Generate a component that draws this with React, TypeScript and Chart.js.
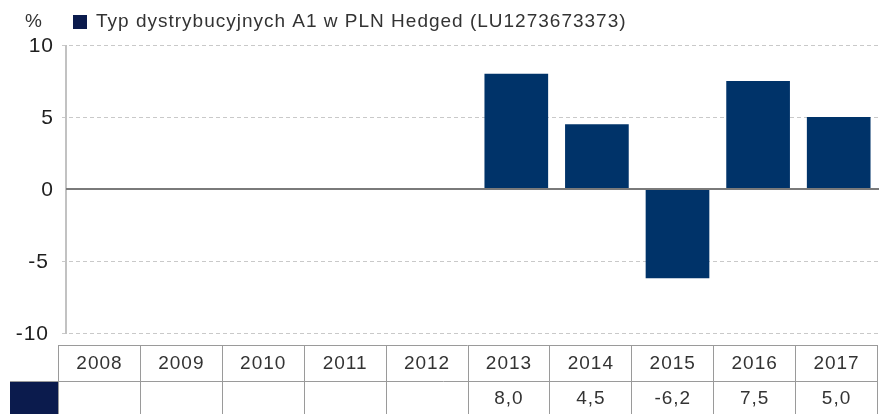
import React, { useEffect, useRef } from "react";
import { Chart, registerables } from "chart.js";

Chart.register(...registerables);

const years = ["2008", "2009", "2010", "2011", "2012", "2013", "2014", "2015", "2016", "2017"];
const values: (number | null)[] = [null, null, null, null, null, 8.0, 4.5, -6.2, 7.5, 5.0];
const valueLabels = ["", "", "", "", "", "8,0", "4,5", "-6,2", "7,5", "5,0"];
const yTicks = [10, 5, 0, -5, -10];
const yTickLabels = ["10", "5", "0", "-5", "-10"];
const seriesName = "Typ dystrybucyjnych A1 w PLN Hedged (LU1273673373)";
const unitLabel = "%";

const BAR_COLOR = "#003369";
const KEY_COLOR = "#0b1b4d";
const TEXT_COLOR = "#333333";
const FONT = "'Liberation Sans', Arial, sans-serif";

function setSpacing(ctx: any, px: number) {
  if ("letterSpacing" in ctx) ctx.letterSpacing = `${px}px`;
}

const decor = {
  id: "decor",
  beforeDatasetsDraw(chart: any) {
    const { ctx, chartArea: ca, scales } = chart;
    const y = scales.y;
    const axisX = ca.left - 7;
    ctx.save();
    ctx.strokeStyle = "#c9c9c9";
    ctx.lineWidth = 1;
    ctx.setLineDash([4, 3]);
    yTicks.forEach((t) => {
      if (t === 0) return;
      const py = Math.round(y.getPixelForValue(t)) + 0.5;
      ctx.beginPath();
      ctx.moveTo(axisX - 4, py);
      ctx.lineTo(ca.right, py);
      ctx.stroke();
    });
    ctx.setLineDash([]);
    ctx.strokeStyle = "#c2c2c2";
    ctx.lineWidth = 2;
    ctx.beginPath();
    ctx.moveTo(axisX, y.getPixelForValue(yTicks[0]));
    ctx.lineTo(axisX, y.getPixelForValue(yTicks[yTicks.length - 1]) + 1);
    ctx.stroke();
    ctx.fillStyle = "#1e1e1e";
    ctx.font = `21px ${FONT}`;
    setSpacing(ctx, 1);
    ctx.textAlign = "right";
    ctx.textBaseline = "middle";
    yTicks.forEach((t, i) => {
      const lx = t < 0 ? axisX - 17 : axisX - 12;
      ctx.fillText(yTickLabels[i], lx, y.getPixelForValue(t) + 1);
    });
    ctx.restore();
  },
  afterDatasetsDraw(chart: any) {
    const { ctx, chartArea: ca, scales } = chart;
    const y = scales.y;
    const axisX = ca.left - 7;
    ctx.save();
    ctx.strokeStyle = "#7a7a7a";
    ctx.lineWidth = 2;
    const zy = Math.round(y.getPixelForValue(0));
    ctx.beginPath();
    ctx.moveTo(axisX, zy);
    ctx.lineTo(ca.right, zy);
    ctx.stroke();

    ctx.fillStyle = TEXT_COLOR;
    ctx.font = `19px ${FONT}`;
    setSpacing(ctx, 1);
    ctx.textAlign = "left";
    ctx.textBaseline = "middle";
    ctx.fillText(unitLabel, 25, 22);
    ctx.fillStyle = KEY_COLOR;
    ctx.fillRect(73, 15, 14, 14);
    ctx.fillStyle = TEXT_COLOR;
    ctx.fillText(seriesName, 96, 22);

    const tLeft = ca.left - 15;
    const tRight = ca.right - 2;
    const colW = (tRight - tLeft) / years.length;
    const top = 345;
    const mid = 381;
    const bottom = 420;
    const keyLeft = 10;
    ctx.fillStyle = KEY_COLOR;
    ctx.fillRect(keyLeft, mid, tLeft - keyLeft, bottom - mid);
    ctx.strokeStyle = "#9a9a9a";
    ctx.lineWidth = 1;
    ctx.beginPath();
    ctx.moveTo(tLeft, top + 0.5);
    ctx.lineTo(tRight, top + 0.5);
    ctx.moveTo(keyLeft, mid + 0.5);
    ctx.lineTo(tRight, mid + 0.5);
    for (let i = 0; i <= years.length; i++) {
      const cx = Math.round(tLeft + i * colW) + 0.5;
      ctx.moveTo(cx, top);
      ctx.lineTo(cx, bottom);
    }
    ctx.stroke();
    ctx.fillStyle = TEXT_COLOR;
    ctx.font = `19px ${FONT}`;
    setSpacing(ctx, 1);
    ctx.textAlign = "center";
    ctx.textBaseline = "middle";
    years.forEach((yr, i) => {
      const cx = tLeft + (i + 0.5) * colW + 0.5;
      ctx.fillText(yr, cx, (top + mid) / 2 + 1);
      if (valueLabels[i]) ctx.fillText(valueLabels[i], cx, (mid + 414) / 2 + 1);
    });
    ctx.restore();
  },
};

export default function App() {
  const ref = useRef<HTMLCanvasElement | null>(null);
  useEffect(() => {
    if (!ref.current) return;
    const chart = new Chart(ref.current, {
      type: "bar",
      data: {
        labels: years,
        datasets: [
          {
            label: seriesName,
            data: values as any,
            backgroundColor: BAR_COLOR,
            borderWidth: 0,
            barPercentage: 0.79,
            categoryPercentage: 1,
          },
        ],
      },
      options: {
        animation: false,
        responsive: false,
        devicePixelRatio: 1,
        layout: { padding: { left: 73, right: 0, top: 45, bottom: 81 } },
        plugins: { legend: { display: false }, tooltip: { enabled: false } },
        scales: {
          x: { display: false },
          y: { display: false, min: -10, max: 10 },
        },
      },
      plugins: [decor],
    });
    return () => chart.destroy();
  }, []);
  return (
    <div style={{ position: "fixed", left: 0, top: 0, width: 879, height: 414, background: "#fff" }}>
      <canvas ref={ref} width={879} height={414} />
    </div>
  );
}
